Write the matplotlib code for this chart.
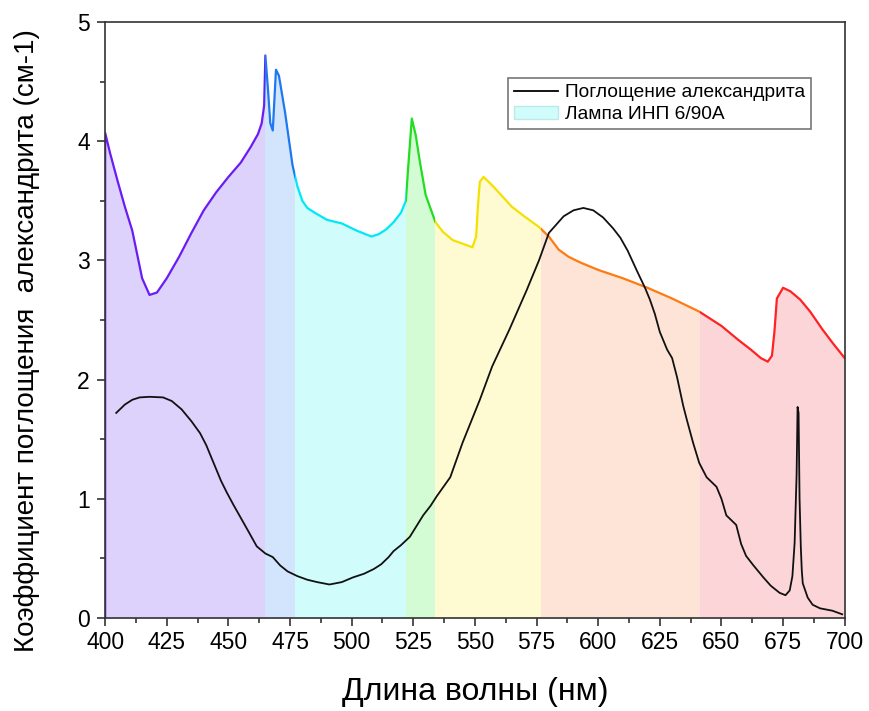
import numpy as np
import matplotlib
matplotlib.use("Agg")
import matplotlib.pyplot as plt
from matplotlib.patches import Rectangle, Patch
from matplotlib.lines import Line2D
from matplotlib.ticker import MultipleLocator

plt.rcParams['font.family'] = ['Liberation Sans', 'DejaVu Sans']

# спектр лампы ИНП 6/90А
lamp_nm = [400, 400, 402, 405, 408, 411, 413, 415, 418, 421, 425, 430, 435, 440, 445,
           450, 455, 459, 462, 463.5, 464.5, 465, 466, 467, 468, 469.3, 470.5, 473, 476,
           478, 480, 482, 485, 490, 496, 502, 508, 511, 514, 517, 520, 522, 523, 524.4,
           526, 527.5, 530, 534, 537, 541, 545, 549, 550.5, 551.2, 552, 553.5, 557, 561,
           565, 570, 576, 580, 584, 588, 593, 600, 610, 620, 630, 641, 650, 657, 662,
           666, 668.8, 670.5, 671.5, 672.5, 675, 678, 682, 686, 691, 695, 700]
lamp_val = [0, 4.07, 3.90, 3.67, 3.45, 3.25, 3.05, 2.85, 2.71, 2.73, 2.85, 3.03, 3.23, 3.42, 3.57,
            3.70, 3.82, 3.95, 4.06, 4.15, 4.30, 4.72, 4.45, 4.15, 4.09, 4.60, 4.55, 4.24, 3.80,
            3.62, 3.50, 3.44, 3.40, 3.34, 3.31, 3.25, 3.20, 3.22, 3.26, 3.32, 3.40, 3.50, 3.80, 4.19,
            4.05, 3.85, 3.55, 3.32, 3.24, 3.17, 3.14, 3.11, 3.20, 3.45, 3.66, 3.70, 3.63, 3.54,
            3.45, 3.37, 3.28, 3.20, 3.09, 3.03, 2.98, 2.92, 2.85, 2.77, 2.68, 2.57, 2.45, 2.33, 2.25,
            2.18, 2.15, 2.20, 2.40, 2.68, 2.77, 2.74, 2.67, 2.57, 2.42, 2.31, 2.18]

# поглощение александрита
abs_nm = [404.5, 408, 411, 414, 418, 423.5, 427, 431, 435, 438.5, 441, 444, 447, 449.4, 452,
          455, 458, 461.5, 465, 468, 471, 474, 478, 482, 486, 491, 496, 500.6, 505, 509, 512,
          515, 517, 520, 523.6, 526, 529, 532, 534.5, 540, 545, 552, 557, 564, 571, 576, 580,
          586, 590, 594, 598, 602, 606, 609, 612, 616, 619, 621, 623, 625, 628, 630, 632,
          634.5, 636, 638.5, 641, 644, 648, 650, 652, 654, 656, 658, 660, 663, 667, 670,
          673.6, 676, 677.7, 678.8, 679.7, 680.5, 680.9, 681.3, 681.7, 682.2, 682.6, 683,
          685, 687, 690, 695, 699]
abs_val = [1.72, 1.79, 1.83, 1.85, 1.855, 1.85, 1.82, 1.75, 1.65, 1.55, 1.45, 1.30, 1.15, 1.05, 0.95,
           0.84, 0.73, 0.60, 0.54, 0.51, 0.44, 0.39, 0.35, 0.32, 0.30, 0.28, 0.30, 0.34, 0.37, 0.41, 0.45,
           0.51, 0.56, 0.61, 0.68, 0.76, 0.86, 0.94, 1.02, 1.18, 1.47, 1.83, 2.11, 2.42, 2.75, 3.00, 3.23,
           3.37, 3.42, 3.44, 3.42, 3.36, 3.27, 3.19, 3.08, 2.90, 2.77, 2.67, 2.55, 2.40, 2.25, 2.18, 2.02,
           1.78, 1.66, 1.47, 1.30, 1.18, 1.10, 1.00, 0.86, 0.82, 0.78, 0.62, 0.52, 0.44, 0.34, 0.27,
           0.21, 0.19, 0.23, 0.35, 0.63, 1.20, 1.77, 1.72, 1.00, 0.60, 0.40, 0.29,
           0.17, 0.11, 0.08, 0.06, 0.03]

# цветовые диапазоны
band_edges = [400, 465, 477, 522, 534, 577, 641.5, 700]
band_line = ['#6a1cf5', '#1e78f0', '#00e8f8', '#22dd22', '#f5e100', '#ff7a10', '#ff2222']
band_fill = ['#dcd2fc', '#d3e5fc', '#d0fcfc', '#d4fcd4', '#fefad2', '#fde4d6', '#fcd5d8']

fig = plt.figure(figsize=(8.69, 7.11), dpi=100)
ax = fig.add_axes([0.121, 0.131, 0.851, 0.838])

for i in range(len(band_line)):
    lo, hi = band_edges[i], band_edges[i + 1]
    clip_f = Rectangle((lo, -1), hi - lo, 7, transform=ax.transData)
    clip_l = Rectangle((lo, -1), hi - lo, 7, transform=ax.transData)
    f = ax.fill_between(lamp_nm, 0, lamp_val, color=band_fill[i], lw=0, zorder=1)
    f.set_clip_path(clip_f)
    ln, = ax.plot(lamp_nm, lamp_val, color=band_line[i], lw=1.6, zorder=2)
    ln.set_clip_path(clip_l)

ax.plot(abs_nm, abs_val, color='#111111', lw=1.3, zorder=3)

ax.set_xlim(400, 700)
ax.set_ylim(0, 5)
ax.xaxis.set_major_locator(MultipleLocator(25))
ax.xaxis.set_minor_locator(MultipleLocator(12.5))
ax.yaxis.set_major_locator(MultipleLocator(1))
ax.yaxis.set_minor_locator(MultipleLocator(0.5))
ax.tick_params(which='both', direction='out', width=1.2, colors='#333333', labelcolor='black',
               top=False, right=False)
ax.tick_params(which='major', length=6, labelsize=16.5)
ax.tick_params(axis='y', which='major', pad=5)
ax.tick_params(which='minor', length=3.5)
for s in ax.spines.values():
    s.set_linewidth(1.2)
    s.set_color('#333333')
    s.set_zorder(5)

ax.set_xlabel('Длина волны (нм)', fontsize=23)
ax.xaxis.set_label_coords(0.5, -0.1)
ax.set_ylabel('Коэффициент поглощения  александрита (см-1)', fontsize=20)
ax.yaxis.set_label_coords(-0.088, 0.466)

handles = [Line2D([], [], color='black', lw=1.3),
           Patch(facecolor='#d0fcfc', edgecolor='#c0e8e8')]
labels = ['Поглощение александрита', 'Лампа ИНП 6/90А']
leg = ax.legend(handles, labels, loc='upper right', bbox_to_anchor=(0.954, 0.906),
                fontsize=13.8, frameon=True, fancybox=False, borderpad=0.3,
                labelspacing=0.25, handlelength=2.3, handletextpad=0.35, borderaxespad=0)
leg.get_frame().set_edgecolor('#555555')
leg.get_frame().set_linewidth(1.2)

fig.savefig('out.png', dpi=100)
